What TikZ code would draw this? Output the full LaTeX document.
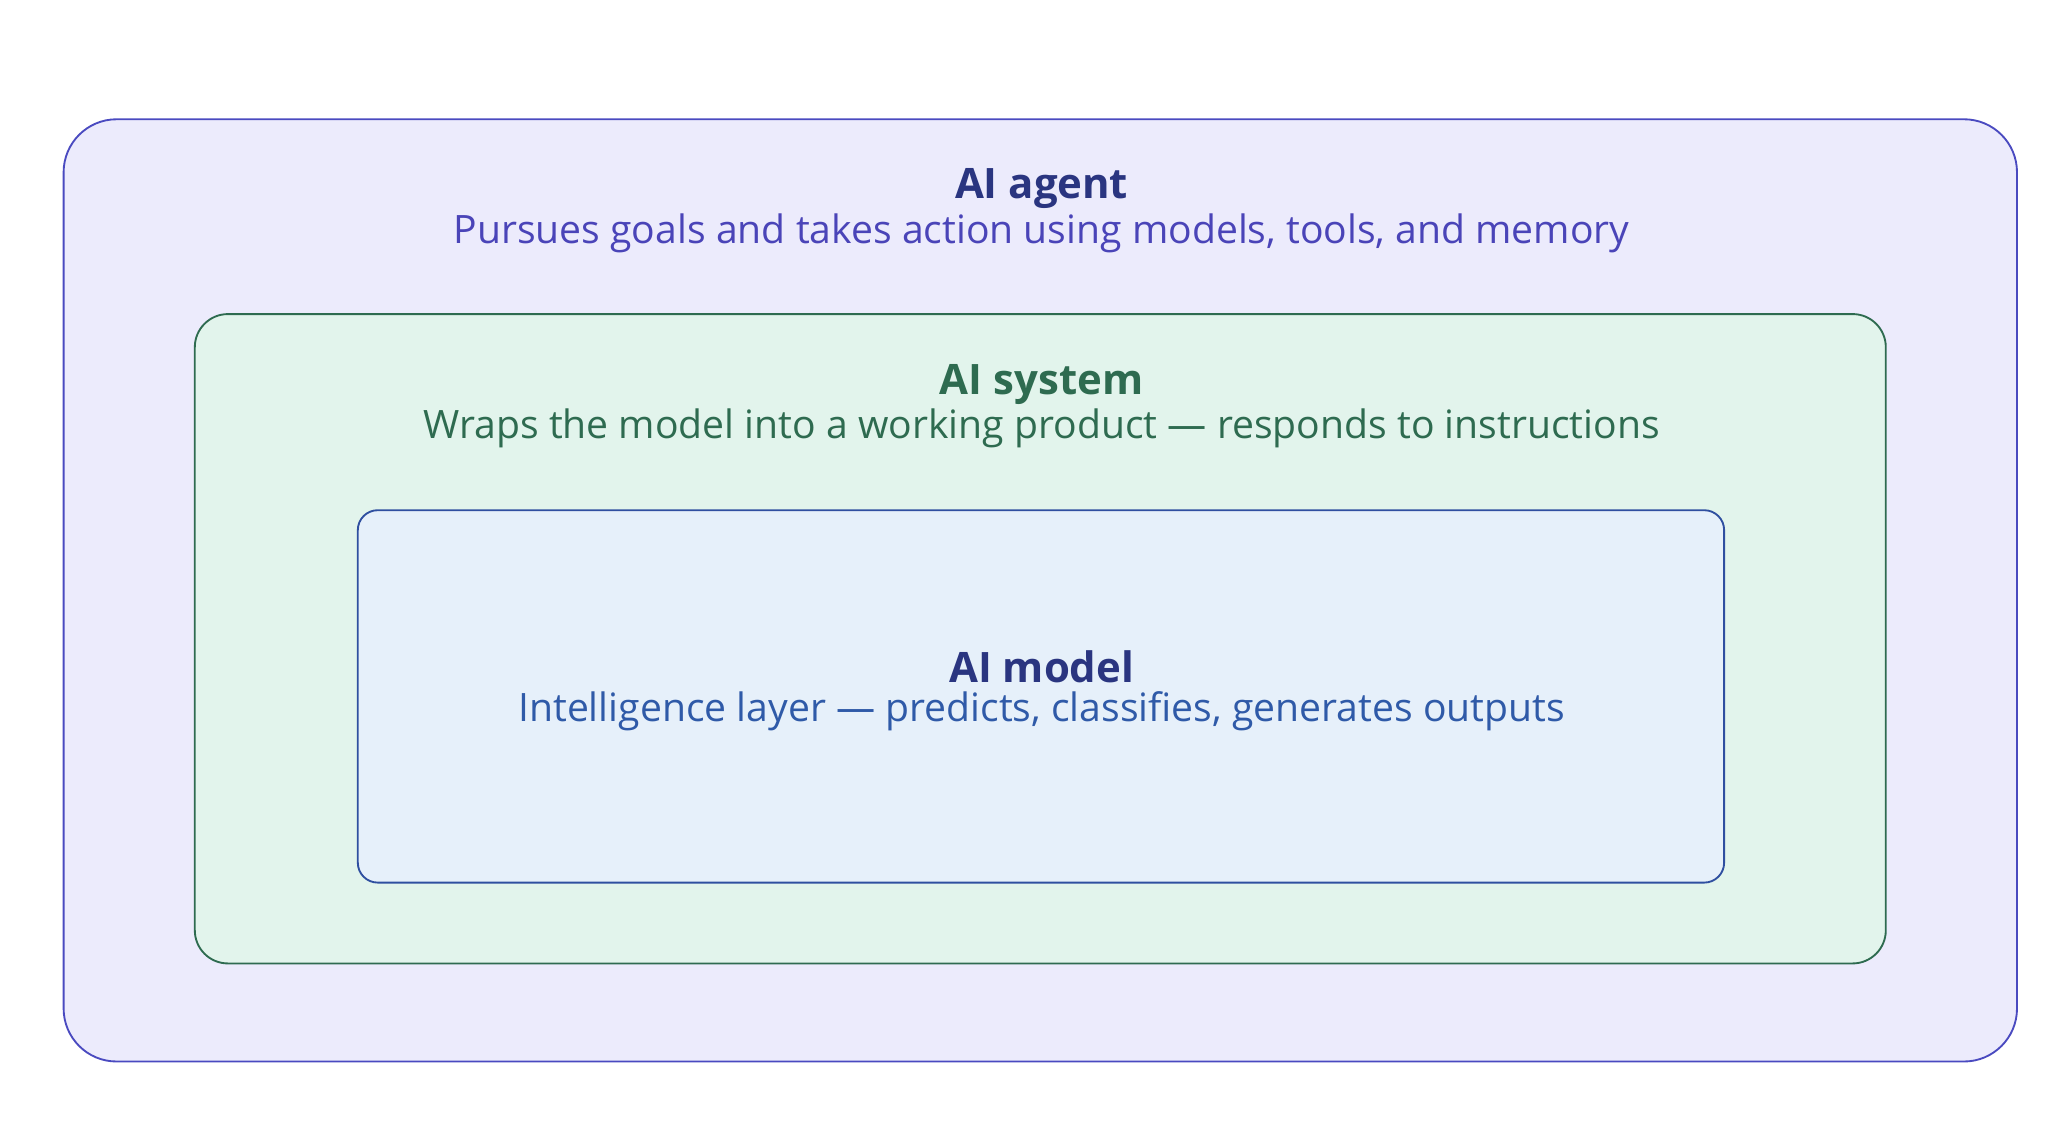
\documentclass[tikz,border=0pt]{standalone}
\usepackage{fontspec}
\setmainfont{Open Sans}
\definecolor{agentfill}{HTML}{ECEBFC}
\definecolor{agentline}{HTML}{4A4AC0}
\definecolor{agenttitle}{HTML}{2A3580}
\definecolor{agenttext}{HTML}{4A44B8}
\definecolor{sysfill}{HTML}{E2F4EC}
\definecolor{sysline}{HTML}{2E6B50}
\definecolor{modelfill}{HTML}{E6F0FA}
\definecolor{modelline}{HTML}{2F4FA0}
\definecolor{modeltext}{HTML}{2F5AA8}

\tikzset{
  title/.style  = {font=\fontsize{18}{21}\selectfont\bfseries},
  sub/.style    = {font=\fontsize{16.8}{20}\selectfont},
  layer/.style  = {line width=0.8pt}
}

\begin{document}
\begin{tikzpicture}[x=0.02cm, y=-0.02cm]

  % Fix the page to the reference proportions

  \useasboundingbox (0,0) rectangle (1562,858);

  % Nested layers, outermost first

  \draw[layer, agentline, fill=agentfill, rounded corners=0.8cm]
    (48,90) rectangle (1522,801);
  \draw[layer, sysline, fill=sysfill, rounded corners=0.5cm]
    (147,237) rectangle (1423,727);
  \draw[layer, modelline, fill=modelfill, rounded corners=0.3cm]
    (270,385) rectangle (1301,666);

  % Titles and descriptions

  \node[title, agenttitle] (agent) at (786,142) {AI agent};
  \node[sub, agenttext]    (agentsub) at (786,176)
    {Pursues goals and takes action using models, tools, and memory};

  \node[title, sysline] (system) at (786,290) {AI system};
  \node[sub, sysline]   (systemsub) at (786,323)
    {Wraps the model into a working product — responds to instructions};

  \node[title, agenttitle] (model) at (786,503) {AI model};
  \node[sub, modeltext]    (modelsub) at (786,537)
    {Intelligence layer — predicts, classifies, generates outputs};

\end{tikzpicture}
\end{document}
